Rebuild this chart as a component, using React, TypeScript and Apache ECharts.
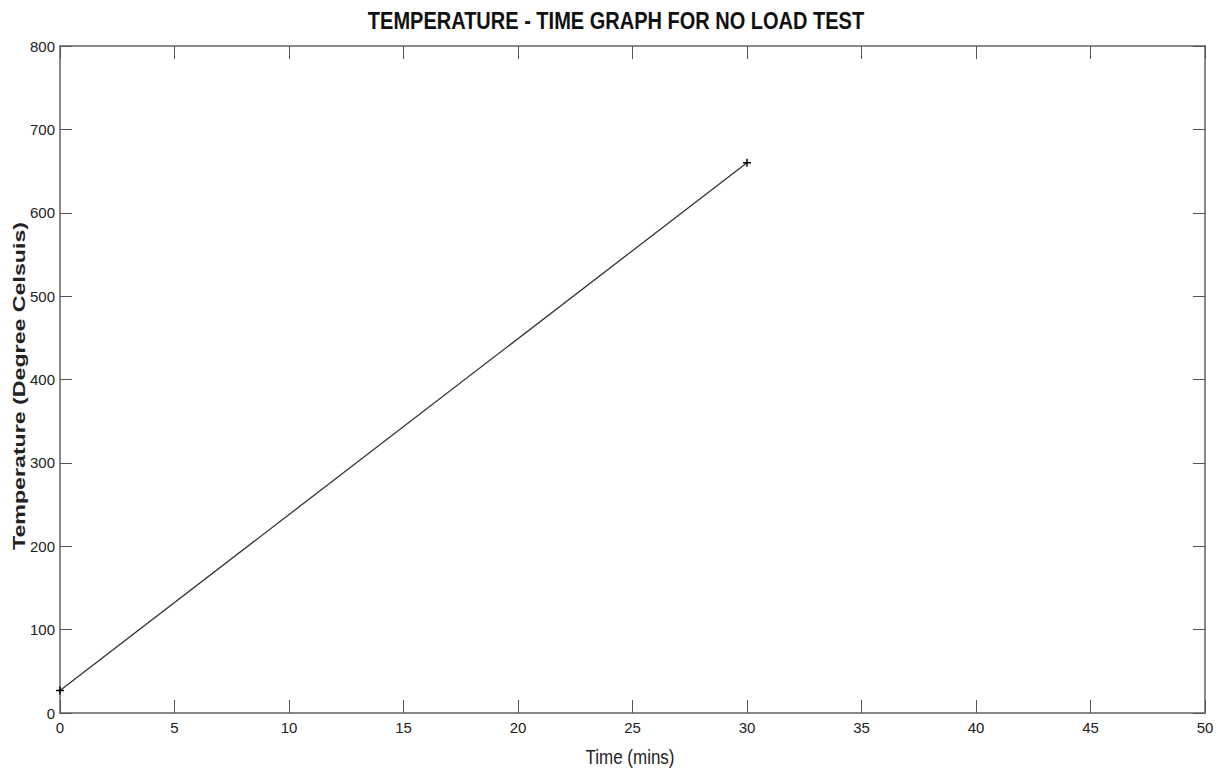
import React, { useEffect, useRef } from "react";
import * as echarts from "echarts";

const titleText = "TEMPERATURE - TIME GRAPH FOR NO LOAD TEST";
const xAxisName = "Time (mins)";
const yAxisName = "Temperature (Degree Celsuis)";
const timeMins = [0, 30];
const temperatureC = [27, 660];
const xTicks = { min: 0, max: 50, step: 5 };
const yTicks = { min: 0, max: 800, step: 100 };

const sans = "'Liberation Sans', Arial, sans-serif";
const axisGray = "#8a8a8a";
const plusSymbol = "path://M3.3,0H4.7V3.3H8V4.7H4.7V8H3.3V4.7H0V3.3H3.3Z";

export default function App() {
  const ref = useRef<HTMLDivElement>(null);
  useEffect(() => {
    if (!ref.current) return;
    const chart = echarts.init(ref.current, null, { renderer: "svg" });
    const points = timeMins.map((t, i) => [t, temperatureC[i]]);
    const tickCommon = { show: true, inside: true, length: 13, lineStyle: { color: "#555", width: 1 } };
    const lineCommon = { show: true, onZero: false, lineStyle: { color: axisGray, width: 2 } };
    chart.setOption({
      animation: false,
      backgroundColor: "#ffffff",
      graphic: [
        {
          type: "text",
          x: 616,
          y: 21,
          scaleX: 0.87,
          style: {
            text: titleText,
            font: "bold 23px 'Liberation Sans', Arial, sans-serif",
            fill: "#111",
            textAlign: "center",
            textVerticalAlign: "middle",
          },
        },
        {
          type: "text",
          x: 19,
          y: 386,
          rotation: Math.PI / 2,
          scaleX: 1.45,
          style: {
            text: yAxisName,
            font: "bold 16px 'Liberation Sans', Arial, sans-serif",
            fill: "#222",
            textAlign: "center",
            textVerticalAlign: "middle",
          },
        },
        {
          type: "text",
          x: 630,
          y: 757,
          scaleX: 0.85,
          style: {
            text: xAxisName,
            font: "20px 'Liberation Sans', Arial, sans-serif",
            fill: "#222",
            textAlign: "center",
            textVerticalAlign: "middle",
          },
        },
      ],
      grid: { left: 60, right: 13, top: 46, bottom: 61, containLabel: false, outerBoundsMode: "none" },
      xAxis: [
        {
          type: "value",
          position: "bottom",
          min: xTicks.min,
          max: xTicks.max,
          interval: xTicks.step,
          axisLine: lineCommon,
          axisTick: tickCommon,
          axisLabel: { fontFamily: sans, fontSize: 15, color: "#222", margin: 7 },
          splitLine: { show: false },
        },
        {
          type: "value",
          position: "top",
          min: xTicks.min,
          max: xTicks.max,
          interval: xTicks.step,
          axisLine: lineCommon,
          axisTick: tickCommon,
          axisLabel: { show: false },
          splitLine: { show: false },
        },
      ],
      yAxis: [
        {
          type: "value",
          position: "left",
          min: yTicks.min,
          max: yTicks.max,
          interval: yTicks.step,
          axisLine: lineCommon,
          axisTick: { ...tickCommon, length: 12 },
          axisLabel: { fontFamily: sans, fontSize: 15, color: "#222", margin: 5 },
          splitLine: { show: false },
        },
        {
          type: "value",
          position: "right",
          min: yTicks.min,
          max: yTicks.max,
          interval: yTicks.step,
          axisLine: lineCommon,
          axisTick: { ...tickCommon, length: 12 },
          axisLabel: { show: false },
          splitLine: { show: false },
        },
      ],
      series: [
        {
          type: "line",
          xAxisIndex: 0,
          yAxisIndex: 0,
          data: points,
          symbol: plusSymbol,
          symbolSize: 8,
          showSymbol: true,
          lineStyle: { color: "#333", width: 1.3 },
          itemStyle: { color: "#000" },
        },
      ],
    });
    return () => chart.dispose();
  }, []);
  return (
    <div
      ref={ref}
      style={{ position: "fixed", left: 0, top: 0, width: 1218, height: 774, background: "#fff" }}
    />
  );
}
